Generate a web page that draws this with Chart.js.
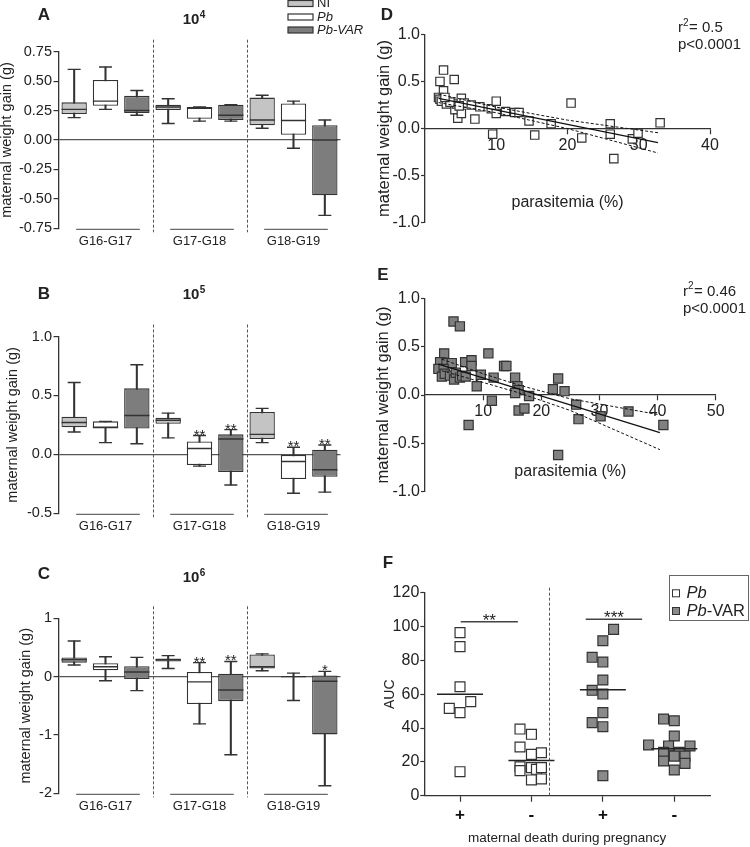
<!DOCTYPE html>
<html>
<head>
<meta charset="utf-8">
<script src="https://cdn.jsdelivr.net/npm/chart.js@4.4.0/dist/chart.umd.min.js"></script>
<style>
  body { margin: 0; background: #fff; width: 750px; height: 847px; position: relative; overflow: hidden; }
  canvas { position: absolute; }
</style>
</head>
<body>
<canvas id="cA" width="375" height="260" style="left:0;top:0"></canvas>
<canvas id="cB" width="375" height="275" style="left:0;top:265px"></canvas>
<canvas id="cC" width="375" height="292" style="left:0;top:555px"></canvas>
<canvas id="cD" width="375" height="250" style="left:375px;top:0"></canvas>
<canvas id="cE" width="375" height="275" style="left:375px;top:262px"></canvas>
<canvas id="cF" width="375" height="307" style="left:375px;top:540px"></canvas>
<script>
// ---- data ----
const groupLabels = ['G16-G17', 'G17-G18', 'G18-G19'];
const seriesNames = ['NI', 'Pb', 'Pb-VAR'];

// box plots, 9 boxes each: NI, Pb, Pb-VAR per group
const aMin = [0.19, 0.26, 0.21, 0.14, 0.16, 0.16, 0.10, -0.07, -0.64];
const aQ1  = [0.22, 0.29, 0.23, 0.255, 0.18, 0.17, 0.125, 0.045, -0.47];
const aMed = [0.26, 0.33, 0.25, 0.28, 0.27, 0.21, 0.17, 0.165, 0.00];
const aQ3  = [0.32, 0.51, 0.375, 0.30, 0.28, 0.30, 0.36, 0.31, 0.125];
const aMax = [0.60, 0.62, 0.42, 0.35, 0.28, 0.30, 0.38, 0.33, 0.17];
const aStars = ['', '', '', '', '', '', '', '', ''];

const bMin = [0.19, 0.10, 0.09, 0.14, -0.10, -0.26, 0.10, -0.33, -0.32];
const bQ1  = [0.23, 0.22, 0.22, 0.26, -0.09, -0.15, 0.13, -0.21, -0.19];
const bMed = [0.27, 0.23, 0.33, 0.29, 0.05, 0.13, 0.17, -0.06, -0.13];
const bQ3  = [0.32, 0.28, 0.56, 0.31, 0.11, 0.17, 0.36, 0.00, 0.04];
const bMax = [0.61, 0.28, 0.76, 0.35, 0.16, 0.21, 0.39, 0.06, 0.08];
const bStars = ['', '', '', '', '**', '**', '', '**', '**'];

const cMin = [0.20, -0.07, -0.24, 0.14, -0.81, -1.34, 0.10, -0.41, -1.87];
const cQ1  = [0.24, 0.11, -0.04, 0.26, -0.47, -0.42, 0.14, 0.00, -0.99];
const cMed = [0.29, 0.17, 0.08, 0.29, -0.09, -0.23, 0.17, 0.00, -0.08];
const cQ3  = [0.33, 0.23, 0.18, 0.31, 0.08, 0.05, 0.38, 0.00, 0.02];
const cMax = [0.61, 0.34, 0.33, 0.36, 0.24, 0.26, 0.39, 0.06, 0.09];
const cStars = ['', '', '', '', '**', '**', '', '', '*'];

// D: Pb, parasitemia (%) vs maternal weight gain (g)
const dParasitemia = [2.1, 2.6, 2.6, 4.1, 1.9, 2.1, 2.3, 3.0, 4.2, 4.4, 4.6, 5.1, 5.1, 5.5, 6.5, 7.0, 7.7, 9.3, 9.5, 10.0,
  10.0, 11.3, 12.6, 13.2, 14.6, 15.4, 17.7, 20.5, 22.0, 26.0, 26.0, 26.5, 29.1, 29.9, 33.0, 3.5, 2.8, 4.8];
const dGain = [0.50, 0.62, 0.40, 0.52, 0.33, 0.31, 0.29, 0.26, 0.20, 0.26, 0.11, 0.16, 0.32, 0.27, 0.25, 0.10, 0.23, 0.21, -0.06, 0.29,
  0.16, 0.18, 0.17, 0.17, 0.08, -0.07, 0.05, 0.27, -0.10, 0.05, -0.06, -0.32, -0.11, -0.05, 0.06, 0.28, 0.33, 0.24];
const dFitX = [1.9, 32.7];
const dFitY = [0.32, -0.15];
const dBandX = [1.9, 10, 20, 32.7];
const dUpperY = [0.365, 0.227, 0.089, -0.045];
const dLowerY = [0.275, 0.167, -0.001, -0.26];

// E: Pb-VAR
const eParasitemia = [4.9, 6.0, 3.3, 10.9, 2.6, 3.7, 4.6, 6.9, 8.0, 8.0, 2.3, 3.2, 2.9, 3.4, 4.3, 5.0, 5.3, 6.0, 6.4, 7.0,
  9.6, 8.9, 11.8, 13.6, 14.0, 11.5, 7.5, 15.5, 15.9, 16.1, 15.5, 17.9, 16.1, 17.1, 22.0, 22.9, 24.0, 22.9, 26.0, 26.4, 30.2, 35.0, 41.0];
const eGain = [0.76, 0.71, 0.43, 0.43, 0.34, 0.33, 0.33, 0.34, 0.36, 0.30, 0.27, 0.27, 0.19, 0.22, 0.20, 0.16, 0.23, 0.18, 0.20, 0.19,
  0.21, 0.09, 0.18, 0.30, 0.30, -0.06, -0.31, 0.18, 0.09, 0.05, 0.02, -0.01, -0.16, -0.14, 0.06, 0.17, 0.04, -0.62, -0.10, -0.25, -0.22, -0.17, -0.31];
const eFitX = [2.3, 40.4];
const eFitY = [0.32, -0.39];
const eBandX = [2.9, 10, 16, 25, 40.4];
const eUpperY = [0.37, 0.22, 0.105, -0.04, -0.205];
const eLowerY = [0.25, 0.13, 0.025, -0.16, -0.565];

// F: AUC by maternal death (+/-); [x offset within column, AUC]
const fXLabels = ['+', '-', '+', '-'];
const aucPbDeath = [[0, 96.4], [0, 88.1], [0, 64.4], [-0.15, 51.6], [0, 49.1], [0.15, 55.6], [0, 14.2]];
const aucPbAlive = [[-0.16, 39.4], [0, 36.3], [-0.16, 28.8], [0, 24.4], [0.14, 25.4], [-0.16, 17.1], [-0.16, 14.8],
  [0, 16.6], [0.07, 15.6], [0.14, 16.6], [0, 9.3], [0.14, 9.9]];
const aucVarDeath = [[0.15, 98.3], [0, 91.6], [-0.15, 81.8], [0, 79.0], [0, 68.4], [-0.15, 62.3], [0, 60.1], [0, 49.1],
  [-0.15, 43.2], [0, 40.8], [0, 11.8]];
const aucVarAlive = [[-0.15, 45.3], [0, 44.3], [0, 35.3], [-0.36, 30.0], [-0.08, 29.4], [0.22, 29.4], [-0.15, 25.6],
  [0.07, 25.6], [0, 23.4], [-0.15, 20.5], [0.15, 23.4], [0.15, 19.1], [0, 15.2]];
const aucMedians = [60, 20.8, 62.7, 27.7];
const sigBarX = [[0.01, 0.81], [1.76, 2.55]];
const sigBarY = [102.9, 104.3];
const sigBarText = ['**', '***'];

// ---- style ----
const FONT = "'Liberation Sans', Arial, sans-serif";
const ink = '#333333';
const fillNI = '#c4c4c4', fillPb = '#ffffff', fillVar = '#7d7d7d';
const seriesFill = [fillNI, fillPb, fillVar];

Chart.defaults.font.family = FONT;
Chart.defaults.color = '#222';
Chart.defaults.animation = false;
Chart.defaults.responsive = false;
Chart.defaults.plugins.legend.display = false;
Chart.defaults.plugins.tooltip.enabled = false;

function txt(ctx, s, x, y, font, align, base) {
  ctx.font = font;
  ctx.textAlign = align || 'center';
  ctx.textBaseline = base || 'middle';
  ctx.fillText(s, x, y);
}

function boxDecor(p) {
  return {
    id: 'boxDecor',
    afterDatasetsDraw(chart) {
      const { ctx, chartArea: a } = chart;
      const x = chart.scales.x, y = chart.scales.y;
      ctx.save();
      ctx.fillStyle = '#222';

      // dashed separators between groups
      ctx.strokeStyle = '#555';
      ctx.lineWidth = 1;
      ctx.setLineDash([3, 2]);
      [2, 5].forEach(i => {
        const sx = Math.round((x.getPixelForValue(i) + x.getPixelForValue(i + 1)) / 2) + 0.5;
        ctx.beginPath();
        ctx.moveTo(sx, a.top - 12);
        ctx.lineTo(sx, a.bottom + 4);
        ctx.stroke();
      });
      ctx.setLineDash([]);

      // group underlines
      ctx.strokeStyle = '#444';
      groupLabels.forEach((g, gi) => {
        ctx.beginPath();
        ctx.moveTo(x.getPixelForValue(gi * 3) + 2, a.bottom + 1);
        ctx.lineTo(x.getPixelForValue(gi * 3 + 2) + 3, a.bottom + 1);
        ctx.stroke();
      });

      // significance stars
      p.stars.forEach((s, i) => {
        if (s) txt(ctx, s, x.getPixelForValue(i), y.getPixelForValue(p.max[i]) + 4, `15px ${FONT}`, 'center', 'alphabetic');
      });

      // panel letter + inoculum title
      txt(ctx, p.letter, 44, p.letterY, `bold 17px ${FONT}`);
      ctx.font = `bold 15px ${FONT}`;
      const w = ctx.measureText('10').width;
      const tx = 194 - (w + 6) / 2;
      txt(ctx, '10', tx, p.titleY, `bold 15px ${FONT}`, 'left');
      txt(ctx, p.exp, tx + w + 0.5, p.titleY - 5, `bold 10px ${FONT}`, 'left');

      // legend (panel A only)
      if (p.legend) {
        const ys = [3.5, 17, 30];
        seriesNames.forEach((n, i) => {
          ctx.fillStyle = seriesFill[i];
          ctx.fillRect(288, ys[i] - 3, 25, 6);
          ctx.strokeStyle = ink;
          ctx.lineWidth = 1.2;
          ctx.strokeRect(288, ys[i] - 3, 25, 6);
          ctx.fillStyle = '#222';
          txt(ctx, n, 317, ys[i], (i ? 'italic ' : '') + `13px ${FONT}`, 'left');
        });
      }
      ctx.restore();
    }
  };
}

function boxChart(id, p) {
  const idx = p.min.map((v, i) => i);
  const labels = idx.map(i => (i % 3 === 1 ? groupLabels[(i - 1) / 3] : ''));
  const marker = (data, r) => ({
    type: 'line', data, showLine: false, pointStyle: 'line', pointRadius: r, pointHoverRadius: r,
    pointBorderWidth: 1.4, pointBorderColor: ink, borderColor: ink, order: 0
  });
  return new Chart(document.getElementById(id), {
    type: 'bar',
    data: {
      labels,
      datasets: [
        marker(p.med, 12.6),
        marker(p.max, 6.5),
        marker(p.min, 6.5),
        {
          data: p.q1.map((v, i) => [v, p.q3[i]]),
          backgroundColor: idx.map(i => seriesFill[i % 3]),
          borderColor: ink, borderWidth: 1.3, borderSkipped: false,
          barPercentage: 0.81, categoryPercentage: 1, grouped: false, order: 1
        },
        {
          data: p.min.map((v, i) => [v, p.max[i]]),
          backgroundColor: ink, borderWidth: 0, barThickness: 1.4, grouped: false, order: 2
        }
      ]
    },
    options: {
      layout: { padding: { left: 0, right: 375 - 340.5, top: p.top, bottom: p.padBottom } },
      scales: {
        x: {
          grid: { display: false },
          border: { display: false },
          ticks: { autoSkip: false, maxRotation: 0, padding: -3, color: '#222', font: { size: 13 } },
          afterFit: s => { s.height = 25; }
        },
        y: {
          min: p.yMin, max: p.yMax,
          border: { display: true, color: ink, width: 1.3 },
          grid: {
            color: c => (c.tick && c.tick.value === 0 ? '#555' : 'rgba(0,0,0,0)'),
            lineWidth: 1.2, drawTicks: true, tickLength: 5, tickColor: ink, tickWidth: 1.2
          },
          ticks: {
            stepSize: p.step, padding: 1.5, color: '#222', font: { size: 14.5 },
            callback: v => v.toFixed(p.dec)
          },
          title: {
            display: true, text: 'maternal weight gain (g)', color: '#222',
            font: { size: 14.5, lineHeight: 1 }, padding: { top: p.titlePad, bottom: 0 }
          },
          afterFit: s => { s.width = 58.5; }
        }
      }
    },
    plugins: [boxDecor(p)]
  });
}

boxChart('cA', { min: aMin, q1: aQ1, med: aMed, q3: aQ3, max: aMax, stars: aStars, letter: 'A', exp: '4',
  yMin: -0.75, yMax: 0.75, step: 0.25, dec: 2, top: 51.7, padBottom: 6.7, titlePad: 0, letterY: 15, titleY: 20, legend: true });
boxChart('cB', { min: bMin, q1: bQ1, med: bMed, q3: bQ3, max: bMax, stars: bStars, letter: 'B', exp: '5',
  yMin: -0.5, yMax: 1.0, step: 0.5, dec: 1, top: 71.5, padBottom: 1.7, titlePad: 5.7, letterY: 29, titleY: 30 });
boxChart('cC', { min: cMin, q1: cQ1, med: cMed, q3: cQ3, max: cMax, stars: cStars, letter: 'C', exp: '6',
  yMin: -2, yMax: 1, step: 1, dec: 0, top: 63.3, padBottom: 28.7, titlePad: 18.7, letterY: 19, titleY: 23.3 });

// ---- scatter panels D, E ----
function pts(xs, ys) { return xs.map((v, i) => ({ x: v, y: ys[i] })); }

function scatterDecor(p) {
  return {
    id: 'scatterDecor',
    afterDatasetsDraw(chart) {
      const { ctx, chartArea: a } = chart;
      ctx.save();
      ctx.fillStyle = '#222';
      txt(ctx, p.letter, p.letterX, p.letterY, `bold 17px ${FONT}`);
      ctx.font = `15px ${FONT}`;
      const w = ctx.measureText('r').width;
      txt(ctx, 'r', p.statX, p.statY, `15px ${FONT}`, 'left');
      txt(ctx, '2', p.statX + w, p.statY - 5, `10px ${FONT}`, 'left');
      txt(ctx, '= ' + p.r2, p.statX + w + 6, p.statY, `15px ${FONT}`, 'left');
      txt(ctx, 'p<0.0001', p.statX, p.statY + 17, `15px ${FONT}`, 'left');
      txt(ctx, 'parasitemia (%)', (a.left + a.right) / 2, a.bottom - 20, `16px ${FONT}`);
      ctx.restore();
    }
  };
}

function scatterChart(id, p) {
  const line = (xs, ys, dash, w) => ({
    type: 'scatter', data: pts(xs, ys), showLine: true, pointRadius: 0, borderColor: '#111',
    borderWidth: w, borderDash: dash, order: 0
  });
  return new Chart(document.getElementById(id), {
    type: 'scatter',
    data: {
      datasets: [
        line(p.fitX, p.fitY, [], 1.3),
        line(p.bandX, p.upY, [3, 2], 1),
        line(p.bandX, p.loY, [3, 2], 1),
        {
          data: pts(p.xs, p.ys), pointStyle: 'rect', pointRadius: p.r, pointHoverRadius: p.r,
          backgroundColor: p.fill, borderColor: ink, borderWidth: 1.2, order: 1
        }
      ]
    },
    options: {
      layout: { padding: { left: 0, right: p.padRight, top: p.top, bottom: p.padBottom } },
      scales: {
        x: {
          type: 'linear', position: { y: 0 }, min: 0, max: p.xMax,
          border: { display: true, color: ink, width: 1.3 },
          grid: { drawOnChartArea: false, drawTicks: true, tickLength: 5, tickColor: ink, tickWidth: 1.2 },
          afterBuildTicks: s => { s.ticks = s.ticks.filter(t => t.value !== 0); },
          ticks: { stepSize: 10, padding: 2, color: '#222', font: { size: 16 } }
        },
        y: {
          min: -1, max: 1,
          border: { display: true, color: ink, width: 1.3 },
          grid: { drawOnChartArea: false, drawTicks: true, tickLength: 4, tickColor: ink, tickWidth: 1.2 },
          ticks: { stepSize: 0.5, padding: 1, color: '#222', font: { size: 16 }, callback: v => v.toFixed(1) },
          title: {
            display: true, text: 'maternal weight gain (g)', color: '#222',
            font: { size: 16.5, lineHeight: 1 }, padding: { top: p.titlePad, bottom: 0 }
          },
          afterFit: s => { s.width = 50; }
        }
      }
    },
    plugins: [scatterDecor(p)]
  });
}

scatterChart('cD', { xs: dParasitemia, ys: dGain, fitX: dFitX, fitY: dFitY, bandX: dBandX, upY: dUpperY, loY: dLowerY,
  fill: '#ffffff', r: 5.9, xMax: 40, top: 34.3, padBottom: 27.3, padRight: 40, titlePad: 1.7,
  letter: 'D', letterX: 12, letterY: 15, statX: 303, statY: 28, r2: '0.5' });
scatterChart('cE', { xs: eParasitemia, ys: eGain, fitX: eFitX, fitY: eFitY, bandX: eBandX, upY: eUpperY, loY: eLowerY,
  fill: '#808080', r: 6.5, xMax: 50, top: 36.3, padBottom: 45.3, padRight: 34.3, titlePad: 0.7,
  letter: 'E', letterX: 8, letterY: 13, statX: 308, statY: 29.7, r2: '0.46' });

// ---- F: AUC dot plot ----
function colPts(arr, col) { return arr.map(d => ({ x: col + d[0], y: d[1] })); }

const fDecor = {
  id: 'fDecor',
  afterDatasetsDraw(chart) {
    const { ctx, chartArea: a } = chart;
    const x = chart.scales.x, y = chart.scales.y;
    ctx.save();
    ctx.fillStyle = '#222';
    // dashed separator between Pb and Pb-VAR
    const sx = Math.round(x.getPixelForValue(1.25)) + 0.5;
    ctx.strokeStyle = '#555';
    ctx.lineWidth = 1;
    ctx.setLineDash([3, 2]);
    ctx.beginPath();
    ctx.moveTo(sx, a.top - 5);
    ctx.lineTo(sx, a.bottom);
    ctx.stroke();
    ctx.setLineDash([]);
    // stars above the bars
    sigBarText.forEach((s, i) => {
      const cx = x.getPixelForValue((sigBarX[i][0] + sigBarX[i][1]) / 2);
      txt(ctx, s, cx, y.getPixelForValue(sigBarY[i]) + 4, `17px ${FONT}`, 'center', 'alphabetic');
    });
    txt(ctx, 'F', 13, 23, `bold 17px ${FONT}`);
    // legend
    ctx.strokeStyle = '#666';
    ctx.lineWidth = 1;
    ctx.strokeRect(294.5, 35.5, 79, 45);
    [[fillPb, 53.3], ['#8a8a8a', 71]].forEach((s, i) => {
      ctx.fillStyle = s[0];
      ctx.fillRect(297.5, s[1] - 3.5, 7, 7);
      ctx.strokeStyle = ink;
      ctx.strokeRect(297.5, s[1] - 3.5, 7, 7);
      ctx.fillStyle = '#222';
      txt(ctx, 'Pb', 311.5, s[1], `italic 16.5px ${FONT}`, 'left');
      if (i === 1) {
        ctx.font = `italic 16.5px ${FONT}`;
        const w = ctx.measureText('Pb').width;
        txt(ctx, '-VAR', 311.5 + w, s[1], `16.5px ${FONT}`, 'left');
      }
    });
    ctx.restore();
  }
};

const dot = (arr, col, fill) => ({
  data: colPts(arr, col), pointStyle: 'rect', pointRadius: 7, pointHoverRadius: 7,
  backgroundColor: fill, borderColor: ink, borderWidth: 1.2, order: 1
});

new Chart(document.getElementById('cF'), {
  type: 'scatter',
  data: {
    datasets: [
      {
        data: aucMedians.map((v, i) => ({ x: i, y: v })), pointStyle: 'line', pointRadius: 23, pointHoverRadius: 23,
        borderColor: '#222', borderWidth: 1.5, order: 0
      },
      ...sigBarX.map((b, i) => ({
        data: b.map(v => ({ x: v, y: sigBarY[i] })), showLine: true, pointRadius: 0,
        borderColor: '#444', borderWidth: 1.5, order: 0
      })),
      dot(aucPbDeath, 0, fillPb),
      dot(aucPbAlive, 1, fillPb),
      dot(aucVarDeath, 2, '#8a8a8a'),
      dot(aucVarAlive, 3, '#8a8a8a')
    ]
  },
  options: {
    layout: { padding: { left: 0, right: 40, top: 52.7, bottom: 0 } },
    scales: {
      x: {
        type: 'linear', min: -0.5, max: 3.5,
        border: { display: true, color: ink, width: 1.3 },
        grid: { drawOnChartArea: false, drawTicks: true, tickLength: 6, tickColor: ink, tickWidth: 1.2 },
        afterBuildTicks: s => { s.ticks = fXLabels.map((l, i) => ({ value: i })); },
        ticks: { padding: 3.7, color: '#111', font: { size: 17, weight: 'bold' },
          callback: v => fXLabels[v] },
        title: { display: true, text: 'maternal death during pregnancy', color: '#222',
          font: { size: 13.5, lineHeight: 1 }, padding: { top: 0, bottom: 2.3 } },
        afterFit: s => { s.height = 51.3; }
      },
      y: {
        min: 0, max: 120,
        border: { display: true, color: ink, width: 1.3 },
        grid: { drawOnChartArea: false, drawTicks: true, tickLength: 4, tickColor: ink, tickWidth: 1.2 },
        ticks: { stepSize: 20, padding: 1, color: '#222', font: { size: 16 } },
        title: { display: true, text: 'AUC', color: '#222', font: { size: 14, lineHeight: 1 }, padding: { top: 8, bottom: 0 } },
        afterFit: s => { s.width = 49.3; }
      }
    }
  },
  plugins: [fDecor]
});
</script>
</body>
</html>
